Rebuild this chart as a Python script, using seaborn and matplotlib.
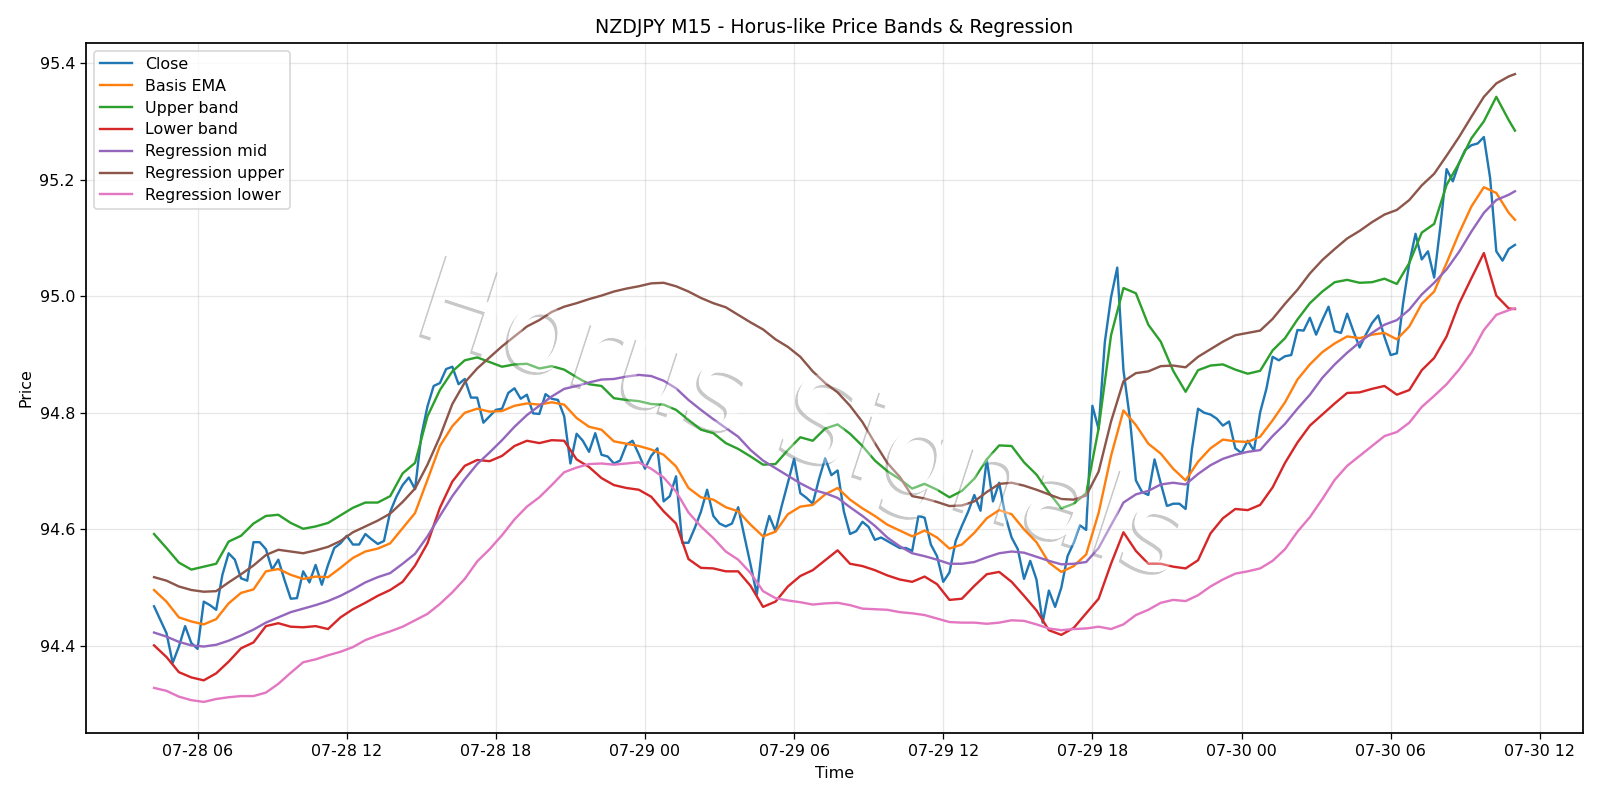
import matplotlib
matplotlib.use("Agg")
import matplotlib.pyplot as plt
import matplotlib.dates as mdates
import matplotlib.patheffects as pe
import pandas as pd
import seaborn as sns

close = [
    94.468, 94.445, 94.422, 94.371, 94.399, 94.434, 94.405, 94.395, 94.476, 94.470,
    94.462, 94.522, 94.559, 94.548, 94.516, 94.512, 94.578, 94.578, 94.566, 94.531,
    94.548, 94.513, 94.481, 94.482, 94.528, 94.509, 94.539, 94.505, 94.539, 94.568,
    94.576, 94.589, 94.574, 94.574, 94.592, 94.583, 94.575, 94.580, 94.630, 94.656,
    94.676, 94.689, 94.669, 94.760, 94.811, 94.846, 94.851, 94.875, 94.879, 94.849,
    94.858, 94.826, 94.826, 94.783, 94.794, 94.805, 94.807, 94.834, 94.842, 94.824,
    94.831, 94.799, 94.798, 94.832, 94.824, 94.822, 94.794, 94.713, 94.764, 94.752,
    94.733, 94.765, 94.728, 94.725, 94.713, 94.718, 94.745, 94.752, 94.729, 94.704,
    94.726, 94.739, 94.648, 94.657, 94.691, 94.577, 94.577, 94.602, 94.630, 94.668,
    94.623, 94.610, 94.605, 94.610, 94.638, 94.588, 94.539, 94.488, 94.583, 94.623,
    94.597, 94.640, 94.680, 94.721, 94.662, 94.654, 94.644, 94.686, 94.722, 94.693,
    94.701, 94.631, 94.592, 94.597, 94.613, 94.604, 94.582, 94.586, 94.580, 94.574,
    94.568, 94.568, 94.563, 94.623, 94.620, 94.574, 94.554, 94.510, 94.526, 94.580,
    94.606, 94.630, 94.659, 94.632, 94.720, 94.648, 94.680, 94.623, 94.586, 94.566,
    94.515, 94.546, 94.514, 94.440, 94.495, 94.467, 94.500, 94.554, 94.577, 94.607,
    94.599, 94.812, 94.772, 94.921, 94.998, 95.049, 94.873, 94.793, 94.684, 94.664,
    94.659, 94.720, 94.679, 94.640, 94.644, 94.644, 94.635, 94.736, 94.807, 94.800,
    94.797, 94.790, 94.778, 94.785, 94.739, 94.731, 94.752, 94.735, 94.801, 94.841,
    94.896, 94.890, 94.897, 94.899, 94.942, 94.941, 94.963, 94.934, 94.959, 94.982,
    94.940, 94.937, 94.970, 94.940, 94.912, 94.934, 94.954, 94.967, 94.930, 94.899,
    94.902, 94.988, 95.057, 95.107, 95.063, 95.077, 95.032, 95.120, 95.218, 95.197,
    95.228, 95.251, 95.259, 95.262, 95.273, 95.203, 95.077, 95.061, 95.081, 95.088,
]

# Indicator series are sampled every 30 minutes, plus the final bar.
basis_ema = [
    94.496, 94.476, 94.449, 94.442, 94.437, 94.446, 94.473, 94.491, 94.497, 94.528,
    94.532, 94.522, 94.515, 94.519, 94.518, 94.534, 94.551, 94.562, 94.567, 94.576,
    94.602, 94.628, 94.685, 94.743, 94.777, 94.800, 94.807, 94.802, 94.803, 94.812,
    94.816, 94.814, 94.818, 94.814, 94.791, 94.776, 94.771, 94.751, 94.747, 94.743,
    94.737, 94.728, 94.708, 94.671, 94.655, 94.651, 94.638, 94.631, 94.608, 94.588,
    94.596, 94.626, 94.639, 94.642, 94.660, 94.671, 94.651, 94.636, 94.623, 94.608,
    94.598, 94.588, 94.598, 94.586, 94.567, 94.574, 94.594, 94.619, 94.633, 94.626,
    94.600, 94.578, 94.543, 94.527, 94.537, 94.557, 94.628, 94.726, 94.804, 94.779,
    94.747, 94.730, 94.704, 94.684, 94.716, 94.739, 94.754, 94.751, 94.750, 94.759,
    94.787, 94.818, 94.857, 94.883, 94.904, 94.919, 94.931, 94.928, 94.934, 94.937,
    94.926, 94.948, 94.987, 95.008, 95.057, 95.108, 95.154, 95.187, 95.177, 95.143,
    95.131,
]
upper_band = [
    94.592, 94.568, 94.543, 94.531, 94.536, 94.541, 94.579, 94.589, 94.610, 94.623,
    94.625, 94.611, 94.601, 94.605, 94.611, 94.624, 94.637, 94.646, 94.646, 94.657,
    94.696, 94.714, 94.794, 94.839, 94.871, 94.890, 94.895, 94.887, 94.879, 94.883,
    94.884, 94.876, 94.880, 94.874, 94.861, 94.849, 94.846, 94.825, 94.822, 94.820,
    94.815, 94.814, 94.805, 94.788, 94.771, 94.765, 94.748, 94.738, 94.725, 94.711,
    94.712, 94.736, 94.758, 94.752, 94.773, 94.780, 94.764, 94.743, 94.718, 94.700,
    94.686, 94.670, 94.678, 94.668, 94.655, 94.666, 94.687, 94.720, 94.744, 94.743,
    94.715, 94.694, 94.663, 94.636, 94.644, 94.662, 94.773, 94.933, 95.014, 95.005,
    94.951, 94.922, 94.872, 94.836, 94.873, 94.881, 94.883, 94.874, 94.867, 94.872,
    94.907, 94.928, 94.960, 94.988, 95.008, 95.024, 95.028, 95.023, 95.024, 95.030,
    95.021, 95.057, 95.109, 95.124, 95.191, 95.228, 95.271, 95.300, 95.342, 95.302,
    95.284,
]
lower_band = [
    94.401, 94.381, 94.355, 94.346, 94.341, 94.353, 94.373, 94.396, 94.406, 94.434,
    94.439, 94.433, 94.432, 94.434, 94.429, 94.449, 94.463, 94.474, 94.486, 94.496,
    94.510, 94.538, 94.576, 94.637, 94.682, 94.709, 94.719, 94.717, 94.726, 94.743,
    94.752, 94.748, 94.753, 94.752, 94.720, 94.707, 94.688, 94.676, 94.671, 94.668,
    94.656, 94.631, 94.610, 94.549, 94.534, 94.533, 94.528, 94.528, 94.503, 94.467,
    94.476, 94.502, 94.520, 94.530, 94.547, 94.564, 94.541, 94.537, 94.530, 94.521,
    94.514, 94.510, 94.519, 94.506, 94.479, 94.481, 94.503, 94.523, 94.527, 94.510,
    94.486, 94.461, 94.427, 94.419, 94.431, 94.456, 94.481, 94.541, 94.595, 94.563,
    94.541, 94.541, 94.536, 94.533, 94.547, 94.593, 94.619, 94.635, 94.633, 94.642,
    94.672, 94.714, 94.749, 94.778, 94.797, 94.816, 94.834, 94.835, 94.841, 94.846,
    94.831, 94.839, 94.873, 94.894, 94.931, 94.987, 95.031, 95.074, 95.001, 94.979,
    94.978,
]
regression_mid = [
    94.423, 94.416, 94.407, 94.401, 94.399, 94.402, 94.409, 94.418, 94.428, 94.440,
    94.449, 94.458, 94.464, 94.470, 94.477, 94.486, 94.497, 94.509, 94.518, 94.525,
    94.541, 94.558, 94.588, 94.623, 94.657, 94.686, 94.712, 94.732, 94.753, 94.776,
    94.796, 94.812, 94.828, 94.841, 94.846, 94.852, 94.857, 94.858, 94.862, 94.865,
    94.863, 94.855, 94.842, 94.822, 94.805, 94.789, 94.774, 94.759, 94.736, 94.718,
    94.705, 94.692, 94.679, 94.668, 94.662, 94.654, 94.638, 94.623, 94.606, 94.586,
    94.571, 94.559, 94.554, 94.548, 94.541, 94.541, 94.544, 94.552, 94.559, 94.562,
    94.560, 94.553, 94.546, 94.540, 94.541, 94.544, 94.568, 94.607, 94.646, 94.660,
    94.666, 94.677, 94.680, 94.677, 94.695, 94.710, 94.721, 94.728, 94.733, 94.736,
    94.760, 94.781, 94.807, 94.831, 94.860, 94.883, 94.903, 94.921, 94.937, 94.951,
    94.959, 94.977, 95.003, 95.023, 95.046, 95.076, 95.111, 95.143, 95.165, 95.174,
    95.180,
]
regression_upper = [
    94.518, 94.512, 94.502, 94.496, 94.493, 94.494, 94.509, 94.523, 94.538, 94.556,
    94.565, 94.562, 94.559, 94.564, 94.570, 94.580, 94.595, 94.605, 94.615, 94.627,
    94.647, 94.670, 94.711, 94.759, 94.815, 94.852, 94.876, 94.895, 94.914, 94.931,
    94.948, 94.959, 94.973, 94.982, 94.988, 94.995, 95.001, 95.008, 95.013, 95.017,
    95.022, 95.023, 95.017, 95.008, 94.997, 94.988, 94.981, 94.968, 94.955, 94.943,
    94.926, 94.913, 94.896, 94.871, 94.851, 94.835, 94.812, 94.784, 94.748, 94.714,
    94.690, 94.657, 94.653, 94.647, 94.640, 94.641, 94.648, 94.664, 94.678, 94.680,
    94.675, 94.668, 94.660, 94.652, 94.651, 94.658, 94.699, 94.785, 94.854, 94.868,
    94.871, 94.880, 94.881, 94.878, 94.896, 94.909, 94.922, 94.933, 94.937, 94.941,
    94.961, 94.987, 95.011, 95.039, 95.062, 95.081, 95.099, 95.112, 95.127, 95.140,
    95.148, 95.165, 95.190, 95.210, 95.241, 95.273, 95.308, 95.342, 95.365, 95.377,
    95.381,
]
regression_lower = [
    94.328, 94.323, 94.313, 94.307, 94.304, 94.309, 94.312, 94.314, 94.314, 94.320,
    94.335, 94.354, 94.372, 94.377, 94.384, 94.390, 94.398, 94.410, 94.418, 94.425,
    94.433, 94.444, 94.455, 94.472, 94.492, 94.515, 94.545, 94.566, 94.590, 94.617,
    94.639, 94.655, 94.676, 94.698, 94.706, 94.712, 94.713, 94.711, 94.713, 94.715,
    94.704, 94.689, 94.665, 94.629, 94.605, 94.585, 94.562, 94.548, 94.525, 94.494,
    94.482, 94.478, 94.475, 94.471, 94.473, 94.474, 94.470, 94.464, 94.463, 94.462,
    94.458, 94.456, 94.453, 94.447, 94.441, 94.440, 94.440, 94.438, 94.440, 94.444,
    94.443, 94.437, 94.430, 94.427, 94.429, 94.430, 94.433, 94.429, 94.437, 94.453,
    94.462, 94.474, 94.479, 94.477, 94.487, 94.502, 94.514, 94.524, 94.528, 94.533,
    94.546, 94.566, 94.596, 94.621, 94.652, 94.685, 94.709, 94.726, 94.743, 94.760,
    94.767, 94.783, 94.810, 94.829, 94.849, 94.874, 94.903, 94.942, 94.968, 94.976,
    94.979,
]

close_times = pd.date_range("2025-07-28 04:15", periods=len(close), freq="15min")
band_times = close_times[::2].append(close_times[-1:])

indicators = [
    ("Basis EMA", basis_ema),
    ("Upper band", upper_band),
    ("Lower band", lower_band),
    ("Regression mid", regression_mid),
    ("Regression upper", regression_upper),
    ("Regression lower", regression_lower),
]

palette = sns.color_palette("tab10")

fig, ax = plt.subplots(figsize=(14, 7), dpi=1600 / 14)

sns.lineplot(x=close_times, y=close, ax=ax, color=palette[0], label="Close",
             linewidth=1.5, errorbar=None, zorder=3)
for idx, (name, series) in enumerate(indicators, start=1):
    sns.lineplot(x=band_times, y=series, ax=ax, color=palette[idx], label=name,
                 linewidth=1.5, errorbar=None, zorder=3)

ax.set_title("NZDJPY M15 - Horus-like Price Bands & Regression")
ax.set_xlabel("Time")
ax.set_ylabel("Price")
ax.grid(True, alpha=0.3)
ax.set_axisbelow(True)
ax.xaxis.set_major_locator(mdates.HourLocator(byhour=[0, 6, 12, 18]))
ax.xaxis.set_major_formatter(mdates.DateFormatter("%m-%d %H"))
ax.legend(loc="upper left", labelspacing=0.43)
for spine in ax.spines.values():
    spine.set_linewidth(1.1)

# Embossed watermark: a grey edge peeking out from under a white face that
# sits below the grid, with a translucent white veil over the price lines.
wm_text = "Horus Signals"
wm_kw = dict(transform=ax.transAxes, ha="center", va="center", rotation=-18,
             rotation_mode="anchor", fontsize=73.8)
wm_pos = (0.478, 0.4485)
ax.text(*wm_pos, wm_text, color="white", zorder=0.4,
        path_effects=[pe.withSimplePatchShadow(offset=(-1.7, -1.7),
                                               shadow_rgbFace="#c8c8c8", alpha=1.0),
                      pe.Normal()], **wm_kw)
ax.text(*wm_pos, wm_text, color="white", alpha=0.35, zorder=4, **wm_kw)

fig.subplots_adjust(left=86 / 1600, right=1583 / 1600,
                    top=1 - 42.7 / 800, bottom=1 - 733.3 / 800)
fig.savefig("out.png", dpi=1600 / 14)
